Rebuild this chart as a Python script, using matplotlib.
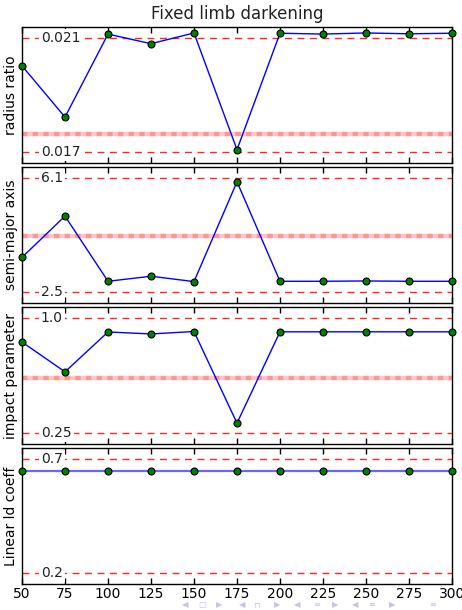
import matplotlib
matplotlib.use("Agg")
import matplotlib.pyplot as plt

# Epochs (x) shared by all panels
epochs = [50, 75, 100, 125, 150, 175, 200, 225, 250, 275, 300]

# Fitted parameters per epoch
radius_ratio = [0.02003, 0.01822, 0.02115, 0.02081, 0.02119, 0.01707,
                0.02118, 0.02115, 0.02119, 0.02116, 0.02118]
semi_major = [3.59, 4.90, 2.83, 2.99, 2.82, 5.99, 2.83, 2.83, 2.84, 2.83, 2.83]
impact = [0.845, 0.649, 0.911, 0.898, 0.914, 0.312, 0.912, 0.912, 0.912, 0.912, 0.912]
linear_ld = [0.649] * 11

# Prior bounds (lower, upper), labels, and true values
bounds = [(0.017, 0.021), (2.5, 6.1), (0.25, 1.0), (0.2, 0.7)]
bound_labels = [("0.017", "0.021"), ("2.5", "6.1"), ("0.25", "1.0"), ("0.2", "0.7")]
true_vals = [0.01761, 4.27, 0.607, None]
ylabels = ["radius ratio", "semi-major axis", "impact parameter", "Linear ld coeff"]
series = [radius_ratio, semi_major, impact, linear_ld]
xticks = [50, 75, 100, 125, 150, 175, 200, 225, 250, 275, 300]

W, H = 462, 610
fig = plt.figure(figsize=(W / 100, H / 100), dpi=100)

# pixel rows of each panel (top, bottom)
rows = [(27, 163), (167, 303), (307, 444), (448, 584)]
left, right = 22, 452

for i, (top, bot) in enumerate(rows):
    ax = fig.add_axes([left / W, 1 - bot / H, (right - left) / W, (bot - top) / H])
    lo, hi = bounds[i]
    pad = 0.1 * (hi - lo)
    ax.set_xlim(50, 300)
    ax.set_ylim(lo - pad, hi + pad)

    # true-value band
    if true_vals[i] is not None:
        ax.axhline(true_vals[i], color="red", alpha=0.22, lw=3.2, zorder=1)
        ax.axhline(true_vals[i], color="red", alpha=0.25, lw=3.2,
                   ls=(0, (1.2, 1.2)), zorder=1)

    # prior bounds
    for val, lab in zip((lo, hi), bound_labels[i]):
        ax.axhline(val, color="red", lw=1, ls=(0, (5, 4)), alpha=0.85, zorder=1)
        ax.text(61, val, lab, fontsize=10, ha="left", va="center", color="#222222",
                bbox=dict(facecolor="white", edgecolor="none", pad=1.5), zorder=2)

    lw = 1.6 if i == 3 else 1
    col = "#6a6af0" if i == 3 else "blue"
    ax.plot(epochs, series[i], color=col, lw=lw, zorder=3)
    ax.plot(epochs, series[i], "o", color="green", mec="black", mew=0.8,
            ms=5, zorder=4, clip_on=False)

    ax.set_yticks([])
    ax.set_xticks(xticks)
    ax.tick_params(axis="x", direction="in", top=True, bottom=True, length=4,
                   width=1, labelsize=10, pad=2)
    if i < 3:
        ax.tick_params(axis="x", labelbottom=False)
    ax.set_ylabel(ylabels[i], fontsize=10, labelpad=3)
    for s in ax.spines.values():
        s.set_linewidth(1)

fig.text(237 / W, 1 - 14 / H, "Fixed limb darkening", fontsize=12, ha="center",
         va="center", color="#222222")

# navigation symbols along the bottom edge
nav_color = "#c4c4e6"
nav = [(185, "◀"), (202, "□"), (219, "▶"), (242, "◀"), (256, "⊓"), (277, "▶"),
       (297, "◀"), (317, "≡"), (335, "▶"), (355, "◀"), (372, "≡"), (392, "▶"),
       (433, "≡")]
for x, s in nav:
    fig.text(x / W, 1 - 605 / H, s, fontsize=6, ha="center", va="center",
             color=nav_color)

fig.savefig("out.png", dpi=100)
